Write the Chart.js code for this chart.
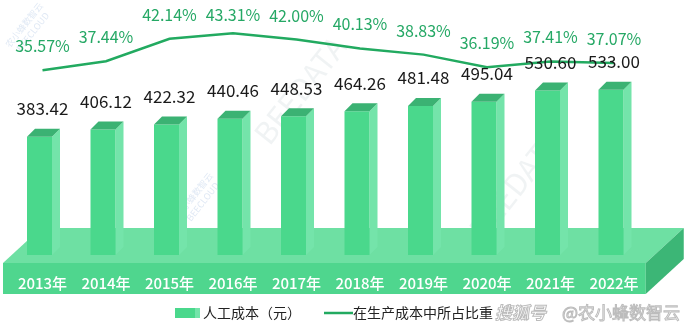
<!DOCTYPE html>
<html>
<head>
<meta charset="utf-8">
<script src="https://cdn.jsdelivr.net/npm/chart.js@4/dist/chart.umd.min.js"></script>
<style>
  html, body { margin: 0; padding: 0; background: #fff; }
  #wrap { width: 685px; height: 324px; }
</style>
</head>
<body>
<div id="wrap"><canvas id="chart" width="685" height="324"></canvas></div>
<script>
const years = ["2013", "2014", "2015", "2016", "2017", "2018", "2019", "2020", "2021", "2022"];
const laborCost = [383.42, 406.12, 422.32, 440.46, 448.53, 464.26, 481.48, 495.04, 530.60, 533.00];
const costShare = [35.57, 37.44, 42.14, 43.31, 42.00, 40.13, 38.83, 36.19, 37.41, 37.07];
const legendNames = ["人工成本（元）", "在生产成本中所占比重"];

const FONT = '"Noto Sans CJK SC", "Noto Sans", sans-serif';
const C = {
  front: "#4ad88c",
  side: "#74e4aa",
  top: "#3bb273",
  baseTop: "#6ee0a3",
  baseFront: "#4fd68e",
  baseSide: "#3cb676",
  line: "#22aa60",
  pct: "#25a865"
};

function poly(ctx, pts, color){
  ctx.beginPath();
  ctx.moveTo(pts[0][0], pts[0][1]);
  for(let i = 1; i < pts.length; i++) ctx.lineTo(pts[i][0], pts[i][1]);
  ctx.closePath();
  ctx.fillStyle = color;
  ctx.fill();
}

// faint diagonal watermarks behind the chart
const watermark = {
  id: "watermark",
  beforeDraw(chart){
    const ctx = chart.ctx;
    ctx.save();
    ctx.textAlign = "center";
    ctx.textBaseline = "middle";
    const marks = [[300, 90, 30, "BEEDATA"], [515, 185, 30, "BEEDATA"]];
    for(const [x, y, s, t] of marks){
      ctx.save();
      ctx.translate(x, y);
      ctx.rotate(-0.9);
      ctx.font = `${s}px ${FONT}`;
      ctx.fillStyle = "rgba(205,214,218,0.3)";
      ctx.fillText(t, 0, 0);
      ctx.restore();
    }
    const logos = [[28, 28], [198, 198]];
    for(const [x, y] of logos){
      ctx.save();
      ctx.translate(x, y);
      ctx.rotate(-0.9);
      ctx.font = `9px ${FONT}`;
      ctx.fillStyle = "rgba(150,180,220,0.3)";
      ctx.fillText("农小蜂数智云", 0, -5);
      ctx.fillText("BEECLOUD", 0, 6);
      ctx.restore();
    }
    ctx.restore();
  }
};

// platform and 3D bars drawn from the bar dataset's elements
const bars3d = {
  id: "bars3d",
  beforeDatasetsDraw(chart){
    const ctx = chart.ctx;
    const area = chart.chartArea;
    ctx.save();

    // platform
    const pl = 3, pr = area.right, pTop = 263, pBot = 294, dx = 38, dy = 35;
    poly(ctx, [[pl, pTop], [pl + dx, pTop - dy], [pr + dx, pTop - dy], [pr, pTop]], C.baseTop);
    poly(ctx, [[pl, pTop], [pr, pTop], [pr, pBot], [pl, pBot]], C.baseFront);
    poly(ctx, [[pr, pTop], [pr + dx, pTop - dy], [pr + dx, pBot - dy], [pr, pBot]], C.baseSide);

    // bars
    const meta = chart.getDatasetMeta(0);
    const d = 8;
    meta.data.forEach(el => {
      const x0 = el.x - 15.5, x1 = el.x + 9.5;
      const yt = el.y, yb = el.base - 2;
      poly(ctx, [[x1, yt], [x1 + d, yt - d], [x1 + d, yb - d], [x1, yb]], C.side);
      poly(ctx, [[x0, yt], [x1, yt], [x1, yb], [x0, yb]], C.front);
      poly(ctx, [[x0, yt], [x0 + d, yt - d], [x1 + d, yt - d], [x1, yt]], C.top);
    });

    // year labels on the platform front
    ctx.fillStyle = "#ffffff";
    ctx.font = `500 15px ${FONT}`;
    ctx.textAlign = "center";
    ctx.textBaseline = "middle";
    const xs = chart.scales.x;
    years.forEach((y, i) => ctx.fillText(y + "年", xs.getPixelForValue(i), 283));
    ctx.restore();
  }
};

// value labels, legend and footer text
const labels = {
  id: "labels",
  afterDatasetsDraw(chart){
    const ctx = chart.ctx;
    ctx.save();
    ctx.textAlign = "center";
    ctx.textBaseline = "middle";

    ctx.font = `17px ${FONT}`;
    ctx.fillStyle = "#1a1a1a";
    chart.getDatasetMeta(0).data.forEach((el, i) => {
      ctx.fillText(laborCost[i].toFixed(2), el.x, el.y - 28);
    });

    ctx.font = `16px ${FONT}`;
    ctx.fillStyle = C.pct;
    chart.getDatasetMeta(1).data.forEach((el, i) => {
      ctx.fillText(costShare[i].toFixed(2) + "%", el.x, Math.max(el.y - 24, 15));
    });

    // legend
    const ly = 313;
    ctx.fillStyle = C.front;
    ctx.fillRect(175, ly - 5, 25, 10);
    ctx.fillStyle = C.side;
    ctx.fillRect(195, ly - 5, 5, 10);
    ctx.strokeStyle = C.line;
    ctx.lineWidth = 2.5;
    ctx.beginPath();
    ctx.moveTo(324, ly);
    ctx.lineTo(353, ly);
    ctx.stroke();
    ctx.font = `14px ${FONT}`;
    ctx.fillStyle = "#222";
    ctx.textAlign = "left";
    ctx.fillText(legendNames[0], 203, ly);
    ctx.fillText(legendNames[1], 353, ly);

    // footer source mark
    ctx.font = `italic bold 17px ${FONT}`;
    ctx.lineWidth = 1;
    ctx.strokeStyle = "#bcbcbc";
    ctx.fillStyle = "#ffffff";
    ctx.fillText("搜狐号", 495, ly);
    ctx.strokeText("搜狐号", 495, ly);
    ctx.font = `17px ${FONT}`;
    ctx.fillText("@农小蜂数智云", 562, ly);
    ctx.strokeText("@农小蜂数智云", 562, ly);
    ctx.restore();
  }
};

new Chart(document.getElementById("chart"), {
  data: {
    labels: years,
    datasets: [
      {
        type: "bar",
        label: legendNames[0],
        data: laborCost,
        backgroundColor: "rgba(0,0,0,0)",
        barThickness: 25,
        yAxisID: "y",
        order: 2
      },
      {
        type: "line",
        label: legendNames[1],
        data: costShare,
        borderColor: C.line,
        borderWidth: 2.5,
        pointRadius: 0,
        tension: 0,
        yAxisID: "y1",
        order: 1
      }
    ]
  },
  options: {
    responsive: false,
    animation: false,
    layout: { padding: { left: 10.75, right: 39.25, top: 6, bottom: 67 } },
    plugins: { legend: { display: false }, tooltip: { enabled: false } },
    scales: {
      x: { display: false, offset: true },
      y: { display: false, min: 0, max: 800 },
      y1: { display: false, min: -3.5, max: 49, position: "right" }
    }
  },
  plugins: [watermark, bars3d, labels]
});
</script>
</body>
</html>
